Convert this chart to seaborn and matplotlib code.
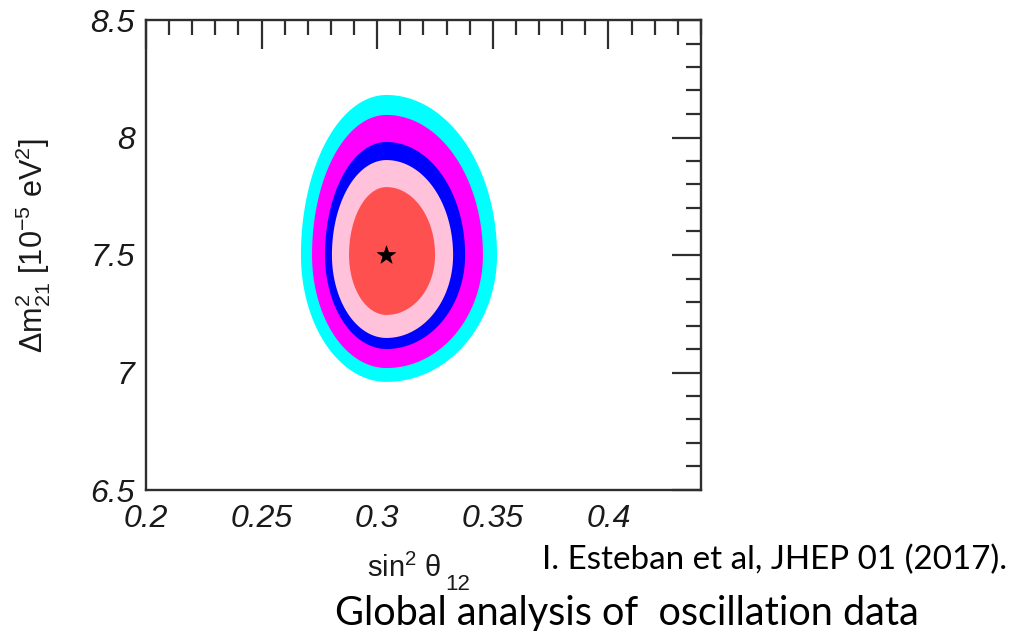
import numpy as np
import matplotlib
matplotlib.use("Agg")
import matplotlib.pyplot as plt
from matplotlib.ticker import MultipleLocator, FixedLocator
import seaborn as sns

# Best-fit point (sin^2 theta12, Delta m^2_21 in 1e-5 eV^2)
best_fit_s12 = 0.304
best_fit_dm21 = 7.50

# Allowed-region extents for each confidence level, innermost first
cl_names = ["1sigma", "90%", "2sigma", "99%", "3sigma"]
cl_colors = ["#FF5050", "#FFC2DA", "#0000FF", "#FF00FF", "#00FFFF"]
s12_left = [0.2878, 0.2804, 0.2774, 0.2718, 0.2670]
s12_right = [0.3250, 0.3328, 0.3380, 0.3457, 0.3518]
dm21_top = [7.789, 7.904, 7.981, 8.096, 8.181]
dm21_bottom = [7.245, 7.147, 7.100, 7.019, 6.960]

x_ticks = [0.2, 0.25, 0.3, 0.35, 0.4]
x_ticklabels = ["0.2", "0.25", "0.3", "0.35", "0.4"]
y_ticks = [6.5, 7.0, 7.5, 8.0, 8.5]
y_ticklabels = ["6.5", "7", "7.5", "8", "8.5"]

sns.set_style("white")
plt.rcParams["font.family"] = ["Liberation Sans", "DejaVu Sans"]
plt.rcParams["mathtext.default"] = "regular"

W, H, DPI = 1012, 631, 100
fig = plt.figure(figsize=(W / DPI, H / DPI), dpi=DPI)
ax = fig.add_axes([146 / W, 1 - 490 / H, (701 - 146) / W, (490 - 20) / H])

# Distance field: each region is an egg built from four quarter-ellipses
xg = np.linspace(0.2, 0.44, 1400)
yg = np.linspace(6.5, 8.5, 1400)
X, Y = np.meshgrid(xg, yg)
for i in reversed(range(len(cl_names))):
    ax_half = np.where(X < best_fit_s12, best_fit_s12 - s12_left[i], s12_right[i] - best_fit_s12)
    ay_half = np.where(Y > best_fit_dm21, dm21_top[i] - best_fit_dm21, best_fit_dm21 - dm21_bottom[i])
    g = ((X - best_fit_s12) / ax_half) ** 2 + ((Y - best_fit_dm21) / ay_half) ** 2
    ax.contourf(X, Y, g, levels=[0, 1], colors=[cl_colors[i]], antialiased=True)

sns.scatterplot(x=[best_fit_s12], y=[best_fit_dm21], marker="*", s=190,
                color="black", edgecolor="black", linewidth=0.5, ax=ax, zorder=5)

ax.set_xlim(0.2, 0.44)
ax.set_ylim(6.5, 8.5)
ax.xaxis.set_major_locator(FixedLocator(x_ticks))
ax.yaxis.set_major_locator(FixedLocator(y_ticks))
ax.set_xticklabels(x_ticklabels)
ax.set_yticklabels(y_ticklabels)
ax.xaxis.set_minor_locator(MultipleLocator(0.01))
ax.yaxis.set_minor_locator(MultipleLocator(0.1))

edge = "#2e2e2e"
for sp in ax.spines.values():
    sp.set_visible(True)
    sp.set_color(edge)
    sp.set_linewidth(1.7)
ax.tick_params(which="both", direction="in", top=True, right=True, color=edge, width=1.6)
ax.tick_params(which="major", length=21)
ax.tick_params(which="minor", length=10.5)
ax.tick_params(axis="x", which="major", pad=10)
ax.tick_params(axis="y", which="major", pad=8)
for lab in ax.get_xticklabels() + ax.get_yticklabels():
    lab.set_fontstyle("italic")
    lab.set_fontsize(23)
    lab.set_color("#1a1a1a")

renderer = fig.canvas.get_renderer()

# Vertical axis title, sized to its span along the axis
ylab = fig.text(33 / W, 1 - 245 / H, r"$\Delta$m$^2_{21}$ [10$^{-5}$ eV$^2$]", fontsize=20,
                rotation=90, ha="center", va="center", color="#1a1a1a")
ylab.set_fontsize(20 * 215 / ylab.get_window_extent(renderer=renderer).height)

# Horizontal axis title with a dropped subscript
fig.text(367 / W, 1 - 577 / H, r"sin$^2$ $\theta$", fontsize=21,
         ha="left", va="baseline", color="#1a1a1a")
fig.text(445 / W, 1 - 590 / H, "12", fontsize=16,
         ha="left", va="baseline", color="#1a1a1a")


def fit_text(x_left, y_center, s, width_px, family):
    t = fig.text(x_left / W, 1 - y_center / H, s, fontsize=20, family=family,
                 ha="left", va="center", color="black")
    w = t.get_window_extent(renderer=renderer).width
    t.set_fontsize(20 * width_px / w)
    return t


fit_text(542, 560, "I. Esteban et al, JHEP 01 (2017).", 465, ["Lato", "DejaVu Sans"])
fit_text(335, 613, "Global analysis of  oscillation data", 585, ["Lato", "DejaVu Sans"])

fig.savefig("out.png", dpi=DPI)
